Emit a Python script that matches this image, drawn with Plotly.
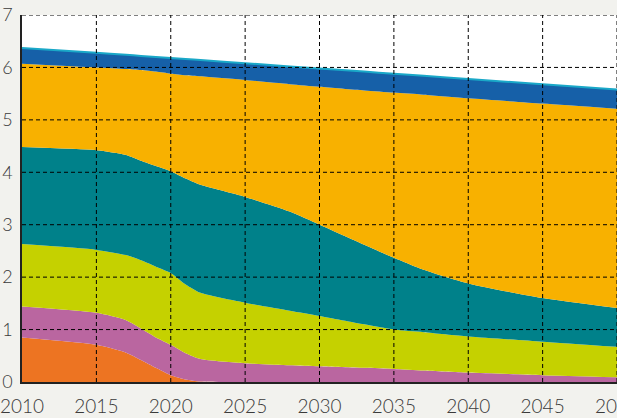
import plotly.graph_objects as go

years = [2010, 2015, 2017, 2018, 2019, 2020, 2021, 2022, 2025, 2028, 2030, 2033, 2035, 2037, 2040, 2045, 2050]

orange = [0.85, 0.71, 0.56, 0.42, 0.27, 0.13, 0.05, 0.01, 0, 0, 0, 0, 0, 0, 0, 0, 0]
pink = [0.59, 0.61, 0.62, 0.60, 0.58, 0.58, 0.50, 0.43, 0.36, 0.32, 0.30, 0.27, 0.25, 0.22, 0.18, 0.13, 0.09]
lime = [1.19, 1.20, 1.24, 1.30, 1.35, 1.37, 1.31, 1.26, 1.15, 1.04, 0.96, 0.83, 0.75, 0.73, 0.69, 0.64, 0.58]
teal = [1.85, 1.90, 1.91, 1.90, 1.92, 1.94, 2.02, 2.06, 2.02, 1.89, 1.74, 1.52, 1.37, 1.19, 1.01, 0.83, 0.74]
amber = [1.59, 1.58, 1.64, 1.73, 1.80, 1.86, 1.97, 2.07, 2.23, 2.43, 2.63, 2.94, 3.15, 3.34, 3.53, 3.71, 3.80]
blue = [0.30, 0.28, 0.27, 0.27, 0.28, 0.30, 0.31, 0.31, 0.32, 0.34, 0.35, 0.36, 0.36, 0.36, 0.37, 0.37, 0.37]

x_ticks = [2010, 2015, 2020, 2025, 2030, 2035, 2040, 2045, 2050]
y_ticks = [0, 1, 2, 3, 4, 5, 6, 7]

layers = [
    (orange, "#ED7422"),
    (pink, "#BA66A0"),
    (lime, "#C5D100"),
    (teal, "#00818A"),
    (amber, "#F8B100"),
]

fig = go.Figure()
for vals, col in layers:
    fig.add_trace(go.Scatter(
        x=years, y=vals, stackgroup="a", mode="lines",
        line=dict(width=0, shape="spline", smoothing=0.6),
        fillcolor=col, hoverinfo="skip"
    ))
# blue band with the thin cyan edge on top
fig.add_trace(go.Scatter(
    x=years, y=blue, stackgroup="a", mode="lines",
    line=dict(width=2, color="#1AA8C8", shape="spline", smoothing=0.6),
    fillcolor="#1660A8", hoverinfo="skip"
))

# dashed grid drawn over the areas, like the original
grid = dict(color="black", width=1, dash="4px,3px")
for xv in x_ticks[1:]:
    fig.add_shape(type="line", xref="x", yref="paper", x0=xv, x1=xv, y0=0, y1=1,
                  line=grid, layer="above")
for yv in y_ticks[1:]:
    fig.add_shape(type="line", xref="paper", yref="y", x0=0, x1=1, y0=yv, y1=yv,
                  line=grid, layer="above")

fig.update_layout(
    width=617, height=418,
    margin=dict(l=22, r=0, t=15, b=36),
    paper_bgcolor="#F2F2EE",
    plot_bgcolor="white",
    showlegend=False,
    font=dict(family="Lato", color="#3a3a3a", size=19, weight=300),
)
fig.update_xaxes(
    range=[2010, 2050], tickvals=x_ticks, showgrid=False,
    showline=True, linecolor="#222222", linewidth=1.5,
    ticks="", ticklabelstandoff=6, ticklabeloverflow="allow", automargin=False,
    layer="above traces", zeroline=False,
)
fig.update_yaxes(
    range=[0, 7], tickvals=y_ticks, showgrid=False,
    showline=True, linecolor="#222222", linewidth=1.5,
    ticks="", ticklabelstandoff=4, ticklabeloverflow="allow", automargin=False,
    layer="above traces", zeroline=False,
    tickfont=dict(size=18),
)

fig.write_html("out.html", config={"displayModeBar": False},
               post_script="document.body.style.margin='0';document.body.style.background='#F2F2EE';")
